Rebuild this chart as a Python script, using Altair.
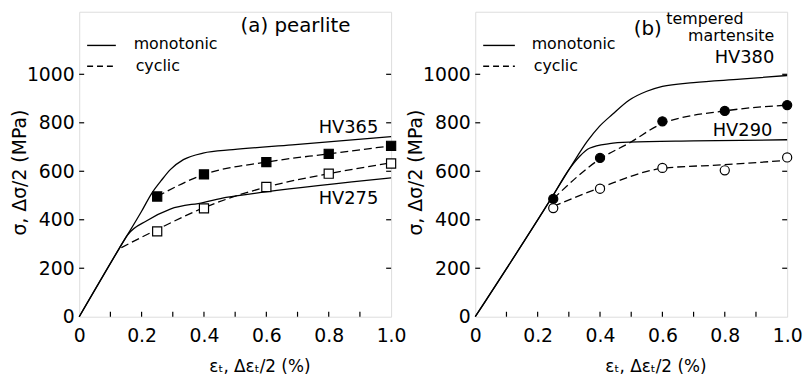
import altair as alt
import pandas as pd

# ---------------- data: (a) pearlite ----------------
a365_mono_x = [0, 0.128, 0.2, 0.234, 0.262, 0.292, 0.334, 0.397, 0.493, 0.683, 1.0]
a365_mono_y = [0, 281, 435, 512, 560, 607, 648, 675, 689, 709, 743]
a275_mono_x = [0, 0.128, 0.154, 0.218, 0.292, 0.397, 0.471, 0.598, 1.0]
a275_mono_y = [0, 281, 336, 397, 444, 471, 492, 515, 573]
a365_cyc_x = [0.25, 0.4, 0.6, 0.8, 1.0]
a365_cyc_y = [496, 587, 638, 672, 705]
a275_cyc_line_x = [0.135, 0.25, 0.4, 0.5, 0.6, 0.8, 1.0]
a275_cyc_line_y = [285, 360, 450, 497, 535, 590, 635]
a275_cyc_x = [0.25, 0.4, 0.6, 0.8, 1.0]
a275_cyc_y = [352, 447, 535, 590, 632]

# ---------------- data: (b) tempered martensite ----------------
b380_mono_x = [0, 0.244, 0.303, 0.36, 0.398, 0.44, 0.493, 0.55, 0.6, 0.7, 0.85, 1.0]
b380_mono_y = [0, 489, 612, 725, 785, 835, 893, 930, 950, 966, 980, 995]
b290_mono_x = [0, 0.244, 0.303, 0.335, 0.366, 0.43, 0.493, 0.7, 1.0]
b290_mono_y = [0, 489, 612, 662, 695, 714, 720, 725, 730]
b380_cyc_line_x = [0.25, 0.4, 0.493, 0.6, 0.8, 1.0]
b380_cyc_line_y = [486, 651, 716, 797, 849, 873]
b380_cyc_x = [0.25, 0.4, 0.6, 0.8, 1.0]
b380_cyc_y = [486, 655, 806, 849, 873]
b290_cyc_line_x = [0.25, 0.4, 0.6, 0.8, 1.0]
b290_cyc_line_y = [455, 532, 612, 627, 645]
b290_cyc_x = [0.25, 0.4, 0.6, 0.8, 1.0]
b290_cyc_y = [448, 528, 614, 604, 657]

x_ticks = [0, 0.2, 0.4, 0.6, 0.8, 1.0]
x_minor = [0.1, 0.2, 0.3, 0.4, 0.5, 0.6, 0.7, 0.8, 0.9]
y_ticks = [0, 200, 400, 600, 800, 1000]
y_inner = [200, 400, 600, 800, 1000]

W, H = 315, 308
FONT = "DejaVu Sans"

xs = alt.Scale(domain=[0, 1.0], nice=False, zero=False)
ys = alt.Scale(domain=[0, 1258], nice=False)

xaxis = alt.Axis(values=x_ticks, ticks=False, domain=False, grid=False,
                 labelExpr="datum.value == 0 ? '0' : format(datum.value, '.1f')",
                 labelFlush=False, labelOverlap=False,
                 labelFontSize=19, labelPadding=10, labelFont=FONT, labelColor="black",
                 title="εₜ, Δεₜ/2 (%)", titleFontSize=17, titleFont=FONT,
                 titleFontWeight="normal", titleColor="black",
                 titleX=182, titleY=50, titleBaseline="middle", titleAlign="center")
yaxis = alt.Axis(values=y_ticks, ticks=False, domain=False, grid=False, format="d",
                 labelFlush=False, labelOverlap=False,
                 labelFontSize=19, labelPadding=5, labelFont=FONT, labelColor="black",
                 title="σ, Δσ/2 (MPa)", titleFontSize=19, titleFont=FONT,
                 titleFontWeight="normal", titleColor="black",
                 titleX=-60, titleY=162, titleAngle=270, titleBaseline="middle",
                 titleAlign="center")

X = lambda f: alt.X(f"{f}:Q", scale=xs, axis=xaxis)
Y = lambda f: alt.Y(f"{f}:Q", scale=ys, axis=yaxis)

one = alt.Data(values=[{}])


def line(xv, yv, dashed):
    df = pd.DataFrame({"x": xv, "y": yv})
    kw = dict(color="black", strokeWidth=1.3, interpolate="monotone")
    if dashed:
        kw["strokeDash"] = [8, 4]
    return alt.Chart(df).mark_line(**kw).encode(x=X("x"), y=Y("y"))


def pts(xv, yv, shape, filled):
    df = pd.DataFrame({"x": xv, "y": yv})
    return alt.Chart(df).mark_point(shape=shape, size=85, filled=True,
                                    fill="black" if filled else "white",
                                    stroke="black", strokeWidth=1.2, opacity=1).encode(
        x=X("x"), y=Y("y"))


def inner_ticks():
    dx = pd.DataFrame({"t": x_minor})
    dy = pd.DataFrame({"v": y_inner})
    bx = alt.Chart(dx).mark_rule(color="black", strokeWidth=1.2).encode(
        x=X("t"), y=alt.value(H), y2=alt.value(H - 5))
    ly = alt.Chart(dy).mark_rule(color="black", strokeWidth=1.2).encode(
        y=Y("v"), x=alt.value(0), x2=alt.value(5))
    ry = alt.Chart(dy).mark_rule(color="black", strokeWidth=1.2).encode(
        y=Y("v"), x=alt.value(W), x2=alt.value(W - 5))
    return [bx, ly, ry]


def txt(s, x, y, align="left", size=17):
    return alt.Chart(one).mark_text(text=s, align=align, baseline="middle",
                                    font=FONT, fontSize=size, color="black").encode(
        x=alt.value(x), y=alt.value(y))


def legend(x0, x1, tx):
    solid = alt.Chart(one).mark_rule(color="black", strokeWidth=1.4).encode(
        x=alt.value(x0), x2=alt.value(x1), y=alt.value(34))
    dash = alt.Chart(one).mark_rule(color="black", strokeWidth=1.4, strokeDash=[6, 4]).encode(
        x=alt.value(x0), x2=alt.value(x1), y=alt.value(55))
    return [solid, dash, txt("monotonic", tx, 33, size=16), txt("cyclic", tx + 2, 55, size=16)]


left = alt.layer(
    line(a365_mono_x, a365_mono_y, False),
    line(a275_mono_x, a275_mono_y, False),
    line(a365_cyc_x, a365_cyc_y, True),
    line(a275_cyc_line_x, a275_cyc_line_y, True),
    pts(a365_cyc_x, a365_cyc_y, "square", True),
    pts(a275_cyc_x, a275_cyc_y, "square", False),
    *inner_ticks(),
    *legend(8, 37, 55),
    txt("(a) pearlite", 163, 14, size=20),
    txt("HV365", 302, 117, align="right", size=18),
    txt("HV275", 302, 189, align="right", size=18),
).properties(width=W, height=H)

right = alt.layer(
    line(b380_mono_x, b380_mono_y, False),
    line(b290_mono_x, b290_mono_y, False),
    line(b380_cyc_line_x, b380_cyc_line_y, True),
    line(b290_cyc_line_x, b290_cyc_line_y, True),
    pts(b380_cyc_x, b380_cyc_y, "circle", True),
    pts(b290_cyc_x, b290_cyc_y, "circle", False),
    *inner_ticks(),
    *legend(8, 40, 57),
    txt("(b)", 160, 17, size=20),
    txt("tempered", 193, 7, size=16),
    txt("martensite", 302, 25, align="right", size=16),
    txt("HV380", 302, 47, align="right", size=18),
    txt("HV290", 300, 120, align="right", size=18),
).properties(width=W, height=H)

chart = alt.hconcat(left, right, spacing=85, bounds="flush",
                    padding={"left": 10, "top": 8, "right": 0, "bottom": 0}
                    ).configure_view(stroke="black", strokeWidth=1.5
                    ).configure(background="white")

chart.save("out.html", embed_options={"renderer": "svg", "actions": False})
